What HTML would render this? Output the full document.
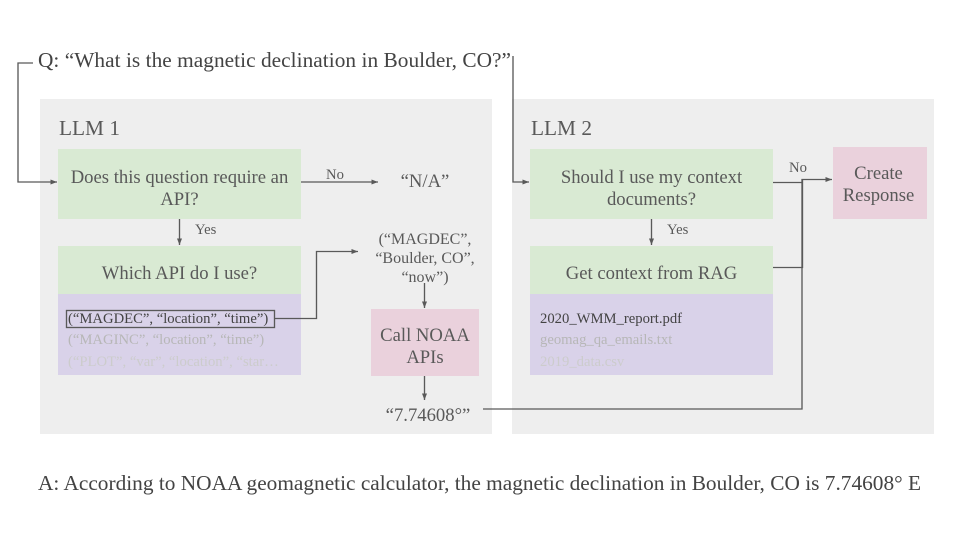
<!DOCTYPE html>
<html><head><meta charset="utf-8"><style>
html,body{margin:0;padding:0;background:#fff}
svg{display:block}
text{font-family:"Liberation Serif",serif;fill:#595959}
.m{text-anchor:middle;font-size:18.67px}
.s{font-size:14.67px}
.c{fill:none;stroke:#595959;stroke-width:1.33}
</style></head><body>
<svg width="960" height="540" viewBox="0 0 960 540" xmlns="http://www.w3.org/2000/svg">
<defs><marker id="a" markerUnits="userSpaceOnUse" markerWidth="8" markerHeight="6" refX="6.500" refY="2.500" orient="auto"><path d="M0 0L6.500 2.500L0 5z" fill="#595959"/></marker></defs>
<rect width="960" height="540" fill="#fff"/>
<rect x="40" y="99" width="452" height="335" fill="#eeeeee"/>
<rect x="512" y="99" width="422" height="335" fill="#eeeeee"/>
<rect x="58" y="149" width="243" height="70" fill="#d9ead3"/>
<rect x="58" y="246" width="243" height="48" fill="#d9ead3"/>
<rect x="58" y="294" width="243" height="81" fill="#d9d2e9"/>
<rect x="371" y="309" width="108" height="67" fill="#ead1dc"/>
<rect x="530" y="149" width="243" height="70" fill="#d9ead3"/>
<rect x="530" y="246" width="243" height="48" fill="#d9ead3"/>
<rect x="530" y="294" width="243" height="81" fill="#d9d2e9"/>
<rect x="833" y="147" width="94" height="72" fill="#ead1dc"/>
<rect x="66.500" y="310.500" width="208" height="17" class="c"/>
<path class="c" d="M33 63H18V182H57" marker-end="url(#a)"/>
<path class="c" d="M513 56V182H529" marker-end="url(#a)"/>
<path class="c" d="M179.500 219V245" marker-end="url(#a)"/>
<path class="c" d="M301 182H378" marker-end="url(#a)"/>
<path class="c" d="M275 318.500H316.500V251.500H358" marker-end="url(#a)"/>
<path class="c" d="M424.500 283V308" marker-end="url(#a)"/>
<path class="c" d="M424.500 376V400" marker-end="url(#a)"/>
<path class="c" d="M483 409H802V179.500H832" marker-end="url(#a)"/>
<path class="c" d="M773 182.500H802"/>
<path class="c" d="M773 267.500H802.500V180"/>
<path class="c" d="M651.500 219V245" marker-end="url(#a)"/>
<text x="38" y="67" style="font-size:21.33px;fill:#434343" textLength="473">Q: “What is the magnetic declination in Boulder, CO?”</text>
<text x="38" y="490" style="font-size:21.33px;fill:#434343" textLength="883">A: According to NOAA geomagnetic calculator, the magnetic declination in Boulder, CO is 7.74608° E</text>
<text x="59" y="135" style="font-size:21.33px">LLM 1</text>
<text x="531" y="135" style="font-size:21.33px">LLM 2</text>
<text x="179.500" y="183" class="m">Does this question require an</text>
<text x="179.500" y="205" class="m">API?</text>
<text x="179.500" y="279" class="m">Which API do I use?</text>
<text x="651.500" y="183" class="m">Should I use my context</text>
<text x="651.500" y="205" class="m">documents?</text>
<text x="651.500" y="279" class="m">Get context from RAG</text>
<text x="425" y="187" class="m">“N/A”</text>
<text x="428" y="421" class="m">“7.74608°”</text>
<text x="425" y="341" class="m">Call NOAA</text>
<text x="425" y="363" class="m">APIs</text>
<text x="878.500" y="179" class="m">Create</text>
<text x="878.500" y="201" class="m">Response</text>
<text x="425" y="244" class="s" text-anchor="middle" style="font-size:16px">(“MAGDEC”,</text>
<text x="425" y="263" class="s" text-anchor="middle" style="font-size:16px">“Boulder, CO”,</text>
<text x="425" y="282" class="s" text-anchor="middle" style="font-size:16px">“now”)</text>
<text x="326" y="179" class="s">No</text>
<text x="789" y="172" class="s">No</text>
<text x="195" y="234" class="s">Yes</text>
<text x="667" y="234" class="s">Yes</text>
<text x="68" y="323" class="s" style="fill:#434343">(“MAGDEC”, “location”, “time”)</text>
<text x="68" y="344" class="s" style="fill:#b7b7b7">(“MAGINC”, “location”, “time”)</text>
<text x="68" y="366" class="s" style="fill:#cccccc">(“PLOT”, “var”, “location”, “star…</text>
<text x="540" y="323" class="s" style="fill:#434343">2020_WMM_report.pdf</text>
<text x="540" y="344" class="s" style="fill:#b7b7b7">geomag_qa_emails.txt</text>
<text x="540" y="366" class="s" style="fill:#cccccc">2019_data.csv</text>
</svg>
</body></html>
